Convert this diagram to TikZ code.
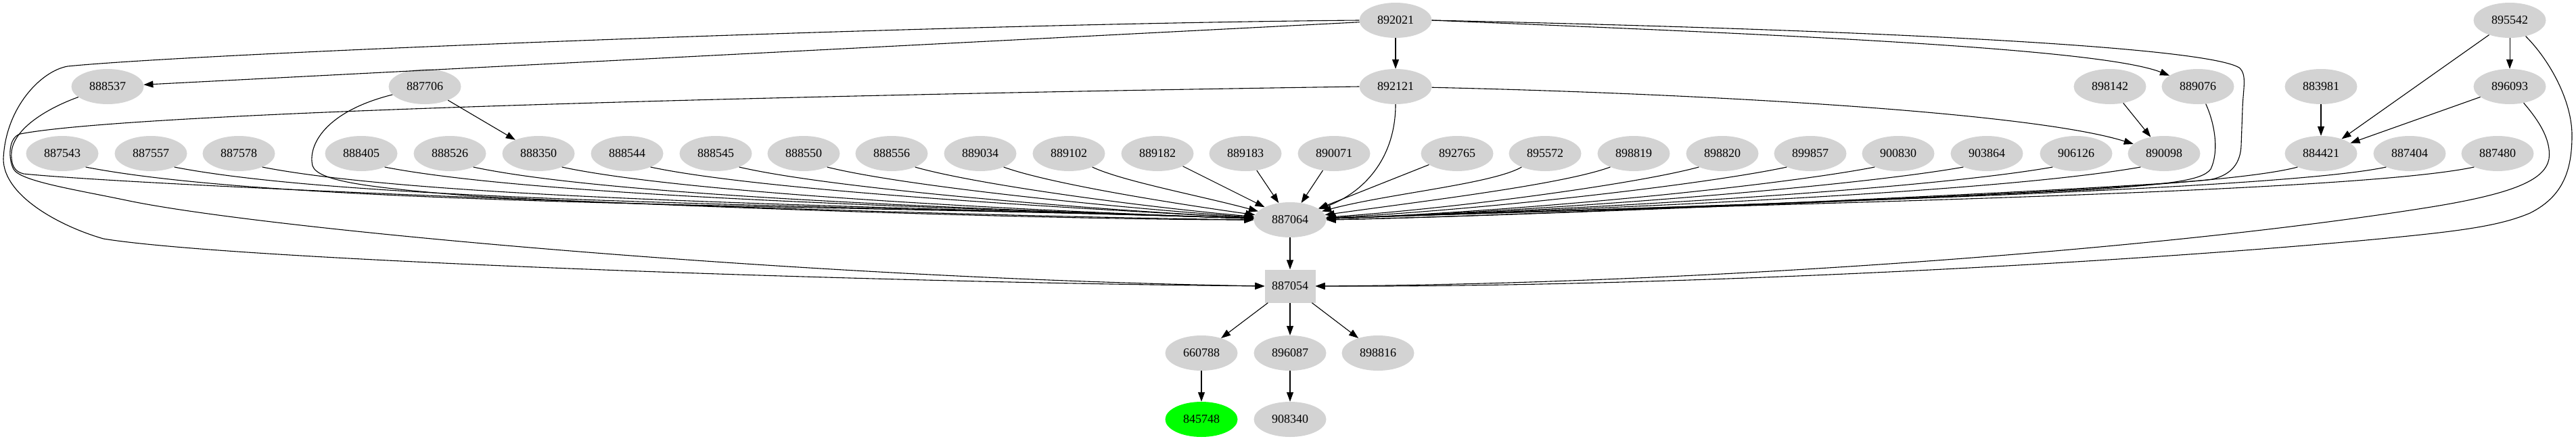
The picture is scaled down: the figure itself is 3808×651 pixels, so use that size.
\documentclass[tikz,border=0pt]{standalone}
\usepackage{fontspec}
\setmainfont{Liberation Serif}
\usetikzlibrary{shapes.geometric,arrows.meta}
\definecolor{gv}{HTML}{D3D3D3}
\definecolor{gvgreen}{HTML}{00FF00}
\begin{document}
\begin{tikzpicture}[x=1pt,y=1pt,
  nd/.style={ellipse, fill=gv, minimum width=107pt, minimum height=52pt, inner sep=0pt, font=\fontsize{18}{20}\selectfont},
  bx/.style={rectangle, fill=gv, minimum width=75pt, minimum height=49pt, inner sep=0pt, font=\fontsize{18}{20}\selectfont},
  e/.style={draw=black, line width=1.1pt, -{Triangle[length=14pt,width=10pt]}}
]
\useasboundingbox (0,0) rectangle (3808,-651);
% rank 1
\node[nd] (n892021) at (2063,-30) {892021};
\node[nd] (n895542) at (3710,-30) {895542};
% rank 2
\node[nd] (n888537) at (159,-128) {888537};
\node[nd] (n887706) at (628,-128) {887706};
\node[nd] (n892121) at (2063,-128) {892121};
\node[nd] (n898142) at (3119,-128) {898142};
\node[nd] (n889076) at (3249,-128) {889076};
\node[nd] (n883981) at (3431,-128) {883981};
\node[nd] (n896093) at (3710,-128) {896093};
% rank 3
\foreach \n/\x in {887543/92,887557/223,887578/353,888405/534,888526/665,888350/796,888544/927,888545/1058,888550/1188,888556/1318,889034/1449,889102/1580,889182/1711,889183/1841,890071/1972,892765/2154,895572/2284,898819/2415,898820/2546,899857/2676,900830/2806,903864/2937,906126/3069,890098/3199,884421/3431,887404/3562,887480/3692}
  \node[nd] (n\n) at (\x,-227) {\n};
% rank 4-7
\node[nd] (n887064) at (1907,-325) {887064};
\node[bx] (n887054) at (1907,-423) {887054};
\node[nd] (n660788) at (1776,-522) {660788};
\node[nd] (n896087) at (1907,-522) {896087};
\node[nd] (n898816) at (2037,-522) {898816};
\node[nd, fill=gvgreen] (n845748) at (1776,-620) {845748};
\node[nd] (n908340) at (1907,-620) {908340};

% straight edges
\draw[e] (n892021) -- (n888537);
\draw[e] (n892021) -- (n892121);
\draw[e] (n887706) -- (n888350);
\draw[e] (n898142) -- (n890098);
\draw[e] (n883981) -- (n884421);
\draw[e] (n895542) -- (n896093);
\draw[e] (n895542) -- (n884421);
\draw[e] (n896093) -- (n884421);
\draw[e] (n887064) -- (n887054);
\draw[e] (n887054) -- (n660788);
\draw[e] (n887054) -- (n896087);
\draw[e] (n887054) -- (n898816);
\draw[e] (n660788) -- (n845748);
\draw[e] (n896087) -- (n908340);
\draw[e] (n889182) -- (n887064);
\draw[e] (n889183) -- (n887064);
\draw[e] (n890071) -- (n887064);
\draw[e] (n892765) -- (n887064);

% rank 3 -> 887064, left side
\foreach \n/\a/\da/\db/\i in {887543/-11/310/600/178,887557/-11/287/558/178,887578/-11/264/513/178,888405/-11/231/449/178,888526/-12/208/404/178,888350/-12/184/358/178,888544/-12/160/312/177,888545/-13/137/266/177,888550/-14/113/220/176,888556/-16/90/175/175,889034/-20/70/130/172,889102/-25/50/90/165}
  \draw[e] (n\n.-30) .. controls +(\a:\da pt) and +(\i:\db pt) .. (n887064.\i);
% right side
\foreach \n/\a/\da/\db/\i in {895572/-150/50/100/15,898819/-160/76/147/8,898820/-165/99/193/4,899857/-168/123/238/3,900830/-169/146/284/2,903864/-170/170/330/2,906126/-170/193/376/2,890098/-170/217/421/2,884421/-165/150/500/2,887404/-168/170/550/2,887480/-168/190/600/2}
  \draw[e] (n\n.-150) .. controls +(\a:\da pt) and +(\i:\db pt) .. (n887064.\i);

% long curved edges
\draw[e] (n892021.west) .. controls (1400,-35) and (300,-78) .. (100,-98)
  .. controls (60,-105) and (8,-160) .. (5,-235)
  .. controls (5,-290) and (90,-335) .. (153,-353)
  .. controls (350,-385) and (1300,-418) .. (n887054.west);
\draw[e] (n892121.west) .. controls (1200,-140) and (200,-165) .. (30,-198)
  .. controls (12,-203) and (12,-235) .. (20,-250)
  .. controls (30,-268) and (110,-280) .. (191,-297)
  .. controls (400,-340) and (1200,-412) .. (n887054.west);
\draw[e] (n888537) .. controls (70,-160) and (20,-190) .. (17,-225)
  .. controls (16,-245) and (22,-254) .. (35,-257)
  .. controls (250,-278) and (1300,-318) .. (n887064.west);
\draw[e] (n887706) .. controls (480,-165) and (455,-215) .. (462,-245)
  .. controls (470,-270) and (560,-278) .. (700,-290)
  .. controls (1100,-310) and (1600,-325) .. (n887064.west);
\draw[e] (n889076) .. controls (3275,-185) and (3280,-225) .. (3268,-250)
  .. controls (3255,-268) and (3200,-272) .. (3100,-280)
  .. controls (2700,-300) and (2200,-320) .. (n887064.east);
\draw[e] (n892021.east) .. controls (2800,-45) and (3260,-70) .. (3310,-100)
  .. controls (3322,-110) and (3316,-130) .. (3315,-160) -- (3313,-215)
  .. controls (3312,-240) and (3300,-258) .. (3270,-265)
  .. controls (3200,-276) and (2300,-318) .. (n887064.east);
\draw[e] (n892021.east) .. controls (2600,-50) and (3100,-70) .. (n889076);
\draw[e] (n892121) .. controls (2500,-138) and (3000,-165) .. (n890098);
\draw[e] (n892121) .. controls (2063,-235) and (2015,-285) .. (n887064);
\draw[e] (n896093) .. controls (3750,-175) and (3772,-205) .. (3768,-235)
  .. controls (3762,-265) and (3720,-285) .. (3600,-305)
  .. controls (3200,-370) and (2500,-420) .. (n887054.east);
\draw[e] (n895542) .. controls (3770,-90) and (3802,-150) .. (3802,-200)
  .. controls (3802,-250) and (3790,-290) .. (3740,-315)
  .. controls (3700,-332) and (3650,-340) .. (3550,-350)
  .. controls (3200,-385) and (2500,-425) .. (n887054.east);
\end{tikzpicture}
\end{document}
